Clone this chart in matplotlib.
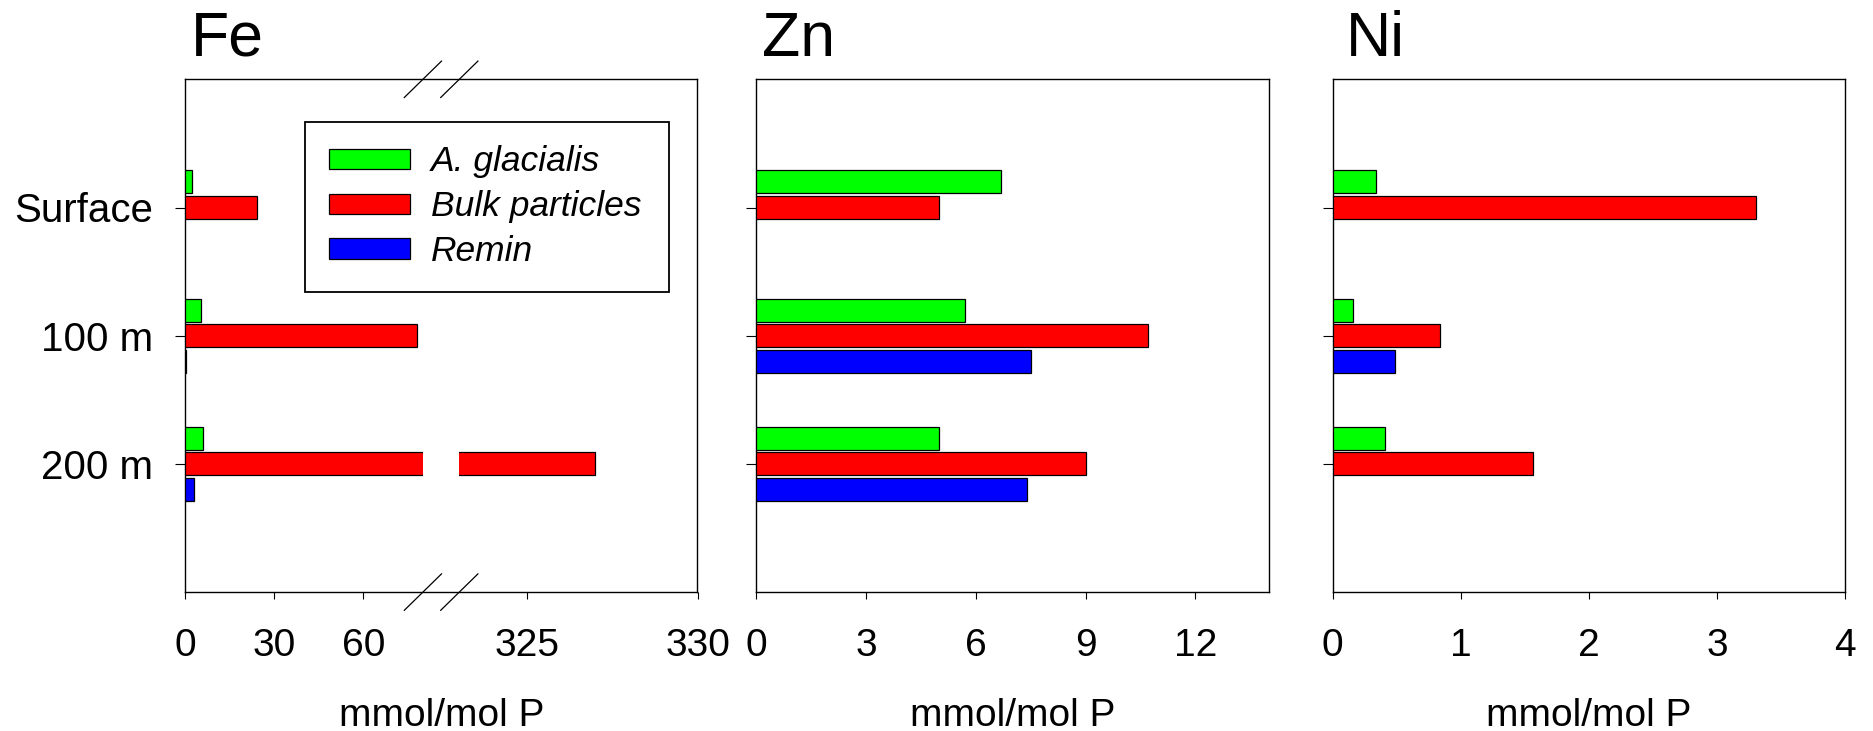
import matplotlib
matplotlib.use("Agg")
import matplotlib.pyplot as plt
from matplotlib.lines import Line2D
import numpy as np

plt.rcParams['font.family'] = ['Liberation Sans', 'DejaVu Sans']

# ---- data -------------------------------------------------------------
depths = ["Surface", "100 m", "200 m"]
series = ["A. glacialis", "Bulk particles", "Remin"]
colors = ["#00ff00", "#ff0000", "#0000ff"]

fe_glacialis = [2.5, 5.3, 6.0]
fe_bulk = [24.1, 77.9, 327.0]
fe_remin = [np.nan, 0.5, 2.9]

zn_glacialis = [6.7, 5.7, 5.0]
zn_bulk = [5.0, 10.7, 9.0]
zn_remin = [np.nan, 7.5, 7.4]

ni_glacialis = [0.34, 0.16, 0.41]
ni_bulk = [3.30, 0.84, 1.56]
ni_remin = [np.nan, 0.49, np.nan]

fe_ticks_low = [0, 30, 60]
fe_ticks_high = [325, 330]
zn_ticks = [0, 3, 6, 9, 12]
ni_ticks = [0, 1, 2, 3, 4]

# ---- layout helpers ---------------------------------------------------
W, H = 1873, 731
fig = plt.figure(figsize=(W / 100, H / 100), dpi=100)


def rect(l, r, t, b):
    return [l / W, 1 - b / H, (r - l) / W, (b - t) / H]


TOP, BOT = 79.3, 592.1
OFFSETS = [-0.2, 0.0, 0.2]
BAR_H = 0.18
YPOS = np.arange(len(depths))


def draw_bars(ax, groups):
    for vals, off, col, name in zip(groups, OFFSETS, colors, series):
        vals = np.asarray(vals, dtype=float)
        keep = ~np.isnan(vals)
        ax.barh(YPOS[keep] + off, vals[keep], height=BAR_H, color=col,
                edgecolor="black", linewidth=0.9, label=name, zorder=3)
    ax.set_ylim(3, -1)


def style_ticks(ax, show_ylabels):
    ax.tick_params(axis="x", direction="out", length=5, width=0.8,
                   labelsize=28, pad=21, top=False)
    ax.tick_params(axis="y", direction="out", length=7.2, width=0.8,
                   labelsize=29, pad=16, right=False)
    ax.set_yticks(YPOS)
    if show_ylabels:
        ax.set_yticklabels(depths)
    else:
        ax.set_yticklabels([])


XLABEL_Y = -(698 - BOT) / (BOT - TOP)
XLABEL_SIZE = 28

# ---- Fe panel with broken x axis -------------------------------------
fe_frame = fig.add_axes(rect(185, 697.5, TOP, BOT), zorder=0)
fe_frame.set_xticks([])
fe_frame.set_yticks([])
for s in fe_frame.spines.values():
    s.set_linewidth(1.0)
fe_frame.set_xlabel("mmol/mol P", fontsize=XLABEL_SIZE)
fe_frame.xaxis.set_label_coords(0.5, XLABEL_Y)

fe_lo = fig.add_axes(rect(185, 422.9, TOP, BOT), zorder=1)
fe_hi = fig.add_axes(rect(459.3, 697.5, TOP, BOT), zorder=1)
fe_groups = [fe_glacialis, fe_bulk, fe_remin]
for ax, lim, ticks in ((fe_lo, (0, 80), fe_ticks_low),
                       (fe_hi, (323, 330), fe_ticks_high)):
    ax.patch.set_visible(False)
    for s in ax.spines.values():
        s.set_visible(False)
    draw_bars(ax, fe_groups)
    ax.set_xlim(*lim)
    ax.set_xticks(ticks)
    style_ticks(ax, ax is fe_lo)
fe_hi.tick_params(axis="y", left=False, labelleft=False)

# break marks across the top and bottom frame lines
for xc in (422.9, 459.3):
    for yc in (TOP, BOT):
        fig.add_artist(Line2D([(xc - 18.6) / W, (xc + 18.6) / W],
                              [1 - (yc + 18.2) / H, 1 - (yc - 18.2) / H],
                              transform=fig.transFigure, color="black",
                              linewidth=0.9, zorder=5))

LEG_TOP = 121.7
leg = fe_lo.legend(loc="upper left",
                   bbox_to_anchor=(305 / W, 1 - LEG_TOP / H - 0.01, 364 / W, 0.01),
                   bbox_transform=fig.transFigure, mode="expand",
                   prop={"style": "italic", "size": 25.5},
                   handlelength=2.3, handleheight=0.5, handletextpad=0.58,
                   labelspacing=0.335, borderpad=0.67, borderaxespad=0,
                   fancybox=False, shadow=False, framealpha=1)
leg.get_frame().set_edgecolor("black")
leg.get_frame().set_linewidth(1.3)

# ---- Zn and Ni panels -------------------------------------------------
panels = [
    ("Zn", rect(756.1, 1268.6, TOP, BOT), [zn_glacialis, zn_bulk, zn_remin], (0, 14), zn_ticks),
    ("Ni", rect(1332.6, 1845.4, TOP, BOT), [ni_glacialis, ni_bulk, ni_remin], (0, 4), ni_ticks),
]
for name, pos, groups, lim, ticks in panels:
    ax = fig.add_axes(pos)
    draw_bars(ax, groups)
    ax.set_xlim(*lim)
    ax.set_xticks(ticks)
    style_ticks(ax, False)
    for s in ax.spines.values():
        s.set_linewidth(1.0)
    ax.set_xlabel("mmol/mol P", fontsize=XLABEL_SIZE)
    ax.xaxis.set_label_coords(0.5, XLABEL_Y)

# ---- element titles ---------------------------------------------------
for label, x in (("Fe", 191), ("Zn", 762), ("Ni", 1346)):
    fig.text(x / W, 1 - 56 / H, label, fontsize=45, ha="left", va="baseline")

fig.savefig("out.png", dpi=100)
